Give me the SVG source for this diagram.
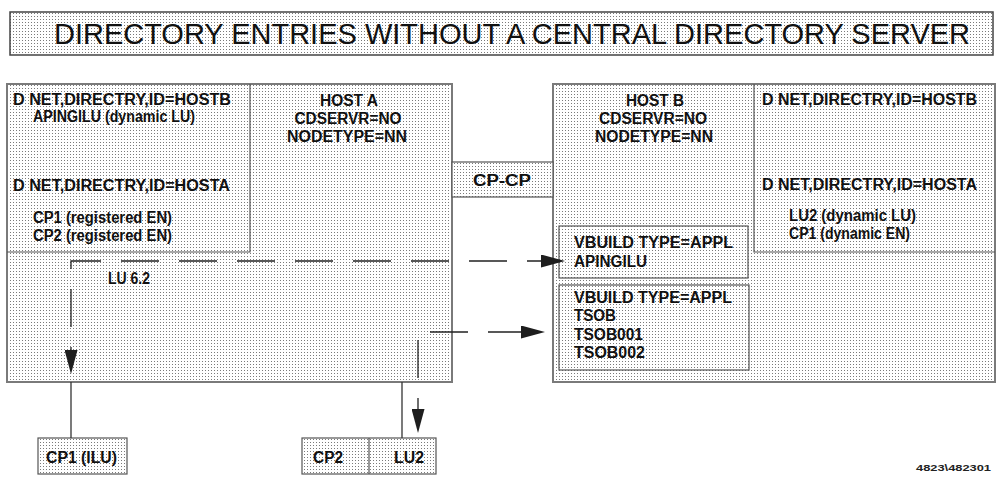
<svg xmlns="http://www.w3.org/2000/svg" width="997" height="482" viewBox="0 0 997 482">
  <defs>
    <!-- light stipple fill used by every box -->
    <pattern id="stipple" width="3" height="3" patternUnits="userSpaceOnUse">
      <rect width="3" height="3" fill="#ffffff"/>
      <rect x="1" y="1" width="1" height="1" fill="#7a7a7a"/>
    </pattern>
    <marker id="head" markerUnits="userSpaceOnUse" markerWidth="24" markerHeight="13" viewBox="0 0 24 13" refX="0" refY="6.5" orient="auto-start-reverse">
      <path d="M0,0 L24,6.5 L0,13 Z" fill="#1e1e1e"/>
    </marker>
  </defs>
  <style>
    .host { fill: url(#stipple); stroke: #7a7a7a; stroke-width: 2; }
    .box { fill: url(#stipple); stroke: #555555; stroke-width: 1.2; }
    .div { fill: none; stroke: #555555; stroke-width: 1.2; }
    .t { font-family: "Liberation Sans", Arial, sans-serif; font-size: 16px; font-weight: bold; fill: #111111; }
    .c { text-anchor: middle; }
    .title { font-family: "Liberation Sans", Arial, sans-serif; font-size: 29px; fill: #111111; }
    .foot { font-family: "Liberation Sans", Arial, sans-serif; font-size: 9px; font-weight: bold; fill: #222222; }
    .session { fill: none; stroke: #222222; stroke-width: 1.3; stroke-dasharray: 38 20; }
    .link { fill: none; stroke: #333333; stroke-width: 1.3; }
  </style>

  <rect width="997" height="482" fill="#ffffff"/>

  <!-- heading -->
  <g id="title">
    <rect x="10" y="12" width="983" height="43" fill="url(#stipple)" stroke="#444444" stroke-width="1.5"/>
    <text class="title" x="54" y="44" textLength="916" lengthAdjust="spacingAndGlyphs">DIRECTORY ENTRIES WITHOUT A CENTRAL DIRECTORY SERVER</text>
  </g>

  <!-- Host A with its directory entries -->
  <g id="host-a">
    <rect class="host" x="7" y="84" width="445" height="298"/>
    <path class="div" d="M7,252 H250 V84"/>
    <text class="t" x="13" y="105" textLength="218" lengthAdjust="spacingAndGlyphs">D NET,DIRECTRY,ID=HOSTB</text>
    <text class="t" x="33" y="122" textLength="162" lengthAdjust="spacingAndGlyphs">APINGILU (dynamic LU)</text>
    <text class="t" x="13" y="191" textLength="217" lengthAdjust="spacingAndGlyphs">D NET,DIRECTRY,ID=HOSTA</text>
    <text class="t" x="33" y="223" textLength="139" lengthAdjust="spacingAndGlyphs">CP1 (registered EN)</text>
    <text class="t" x="33" y="241" textLength="139" lengthAdjust="spacingAndGlyphs">CP2 (registered EN)</text>
    <text class="t c" x="349" y="106" textLength="58" lengthAdjust="spacingAndGlyphs">HOST A</text>
    <text class="t c" x="348" y="124" textLength="107" lengthAdjust="spacingAndGlyphs">CDSERVR=NO</text>
    <text class="t c" x="347" y="142" textLength="120" lengthAdjust="spacingAndGlyphs">NODETYPE=NN</text>
  </g>

  <!-- Host B with its directory entries -->
  <g id="host-b">
    <rect class="host" x="553" y="84" width="442" height="298"/>
    <path class="div" d="M754,84 V252 H995"/>
    <text class="t c" x="655" y="106" textLength="58" lengthAdjust="spacingAndGlyphs">HOST B</text>
    <text class="t c" x="653" y="124" textLength="108" lengthAdjust="spacingAndGlyphs">CDSERVR=NO</text>
    <text class="t c" x="654" y="142" textLength="118" lengthAdjust="spacingAndGlyphs">NODETYPE=NN</text>
    <text class="t" x="762" y="105" textLength="215" lengthAdjust="spacingAndGlyphs">D NET,DIRECTRY,ID=HOSTB</text>
    <text class="t" x="762" y="190" textLength="215" lengthAdjust="spacingAndGlyphs">D NET,DIRECTRY,ID=HOSTA</text>
    <text class="t" x="789" y="221" textLength="127" lengthAdjust="spacingAndGlyphs">LU2 (dynamic LU)</text>
    <text class="t" x="789" y="239" textLength="121" lengthAdjust="spacingAndGlyphs">CP1 (dynamic EN)</text>
  </g>

  <!-- CP-CP session between the hosts -->
  <g id="cp-cp">
    <rect class="box" x="452" y="162" width="101" height="35"/>
    <text class="t" x="473" y="186" textLength="58" lengthAdjust="spacingAndGlyphs">CP-CP</text>
  </g>

  <g id="vbuild-apingilu">
    <rect class="box" x="559" y="226" width="189" height="52"/>
    <text class="t" x="574" y="248" textLength="159" lengthAdjust="spacingAndGlyphs">VBUILD TYPE=APPL</text>
    <text class="t" x="574" y="267" textLength="73" lengthAdjust="spacingAndGlyphs">APINGILU</text>
  </g>

  <g id="vbuild-tsob">
    <rect class="box" x="559" y="285" width="190" height="85"/>
    <text class="t" x="574" y="303" textLength="158" lengthAdjust="spacingAndGlyphs">VBUILD TYPE=APPL</text>
    <text class="t" x="574" y="321" textLength="42" lengthAdjust="spacingAndGlyphs">TSOB</text>
    <text class="t" x="574" y="339.5" textLength="69" lengthAdjust="spacingAndGlyphs">TSOB001</text>
    <text class="t" x="574" y="358" textLength="71" lengthAdjust="spacingAndGlyphs">TSOB002</text>
  </g>

  <g id="cp1-ilu">
    <rect class="box" x="38" y="438" width="89" height="36"/>
    <text class="t" x="46" y="463" textLength="71" lengthAdjust="spacingAndGlyphs">CP1 (ILU)</text>
  </g>

  <g id="cp2-lu2">
    <rect class="box" x="302" y="438" width="134" height="36"/>
    <line class="div" x1="369" y1="438" x2="369" y2="474"/>
    <text class="t" x="313" y="463" textLength="30" lengthAdjust="spacingAndGlyphs">CP2</text>
    <text class="t" x="394" y="463" textLength="30" lengthAdjust="spacingAndGlyphs">LU2</text>
  </g>

  <!-- links and LU 6.2 sessions -->
  <g id="connectors">
    <line class="link" x1="71" y1="382" x2="71" y2="438"/>
    <line class="link" x1="402" y1="382" x2="402" y2="438"/>
    <path class="session" d="M541,261 H71 V350" stroke-dashoffset="24" marker-start="url(#head)" marker-end="url(#head)"/>
    <path class="session" d="M521,332 H418 V409" stroke-dashoffset="5" marker-start="url(#head)" marker-end="url(#head)"/>
    <text class="t" x="108" y="284" textLength="42" lengthAdjust="spacingAndGlyphs">LU 6.2</text>
  </g>

  <text class="foot" x="916" y="471" textLength="75" lengthAdjust="spacingAndGlyphs">4823\482301</text>
</svg>
